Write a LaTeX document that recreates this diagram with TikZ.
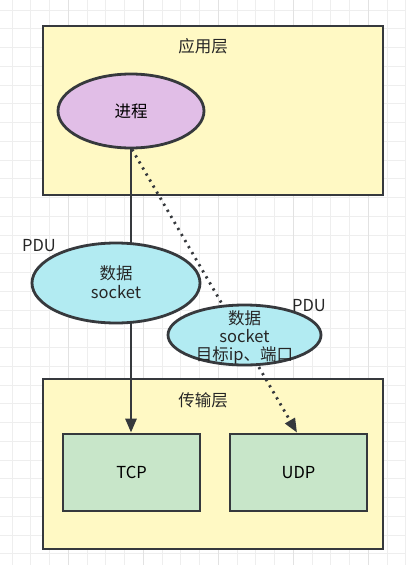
\documentclass[tikz,border=0pt]{standalone}
\usepackage{fontspec}
\setmainfont{Noto Sans CJK SC}
\usetikzlibrary{arrows.meta,shapes.geometric}
\definecolor{strokec}{HTML}{36393D}
\definecolor{layerfill}{HTML}{FFF9C4}
\definecolor{procfill}{HTML}{E1BEE7}
\definecolor{pdufill}{HTML}{B2EBF2}
\definecolor{boxfill}{HTML}{C8E6C9}
\definecolor{gridminor}{HTML}{EEEEEE}
\definecolor{gridmajor}{HTML}{E2E2E2}
\tikzset{
  layerbox/.style={draw=strokec, line width=2.8pt, fill=layerfill, rectangle, inner sep=0pt},
  protobox/.style={draw=strokec, line width=2.8pt, fill=boxfill, rectangle, minimum width=137pt, minimum height=77pt, inner sep=0pt, font=\fontsize{16.5}{19}\selectfont},
  procell/.style={draw=strokec, line width=2.8pt, fill=procfill, ellipse, minimum width=146pt, minimum height=74pt, inner sep=0pt, font=\fontsize{16.5}{19}\selectfont},
  pduell/.style={draw=strokec, line width=2.8pt, fill=pdufill, ellipse, inner sep=0pt, align=center, font=\fontsize{16.5}{19}\selectfont},
  pdutext/.style={inner sep=0pt, align=center, font=\fontsize{16.5}{19}\selectfont, text=black!85},
  lbl/.style={inner sep=0pt, font=\fontsize{16.5}{19}\selectfont, text=black!85},
  solidconn/.style={draw=strokec, line width=2.8pt, -{Triangle[length=14pt,width=11pt]}},
  dotconn/.style={draw=strokec, line width=2.8pt, dash pattern=on 2.2pt off 4.8pt, -{Triangle[length=14pt,width=11pt]}},
}
\begin{document}
\begin{tikzpicture}[x=1pt,y=-1pt]
\useasboundingbox (0,0) rectangle (406,565);
\fill[white] (0,0) rectangle (406,565);
% grid
\foreach \k in {0,...,21} {
  \pgfmathsetmacro{\gx}{12+18.75*\k}
  \draw[gridminor, line width=0.8pt] (\gx,0) -- (\gx,565);
}
\foreach \k in {0,...,30} {
  \pgfmathsetmacro{\gy}{10+18.75*\k}
  \draw[gridminor, line width=0.8pt] (0,\gy) -- (406,\gy);
}
\foreach \k in {0,...,4} {
  \pgfmathsetmacro{\gx}{68+75*\k}
  \draw[gridmajor, line width=0.9pt] (\gx,0) -- (\gx,565);
}
% layers
\node[layerbox, minimum width=340pt, minimum height=169pt] (app) at (213,110.5) {};
\node[lbl] (applbl) at (203,46) {应用层};
\node[layerbox, minimum width=340pt, minimum height=170pt] (trans) at (213,464) {};
\node[lbl] (translbl) at (203,400) {传输层};
% process and protocols
\node[procell] (proc) at (131,111) {进程};
\node[protobox] (tcp) at (131.5,472.5) {TCP};
\node[protobox] (udp) at (298.5,472.5) {UDP};
% connectors
\draw[solidconn] (proc.south) -- (proc.south |- tcp.north);
\draw[dotconn] ([xshift=1pt]proc.south) -- ([xshift=-1.5pt]udp.north);
% PDUs
\node[pduell, minimum width=168pt, minimum height=80pt] (pdu1) at (116,283) {};
\node[pdutext] (pdu1txt) at (116,282) {数据\\[0pt]socket};
\node[pduell, minimum width=153pt, minimum height=60pt] (pdu2) at (244.5,335) {};
\node[pdutext] (pdu2txt) at (244.5,337) {数据\\[-1pt]socket\\[-1pt]目标ip、端口};
\node[lbl] (pdu1lbl) at (39,246) {PDU};
\node[lbl] (pdu2lbl) at (309,306) {PDU};
\end{tikzpicture}
\end{document}
